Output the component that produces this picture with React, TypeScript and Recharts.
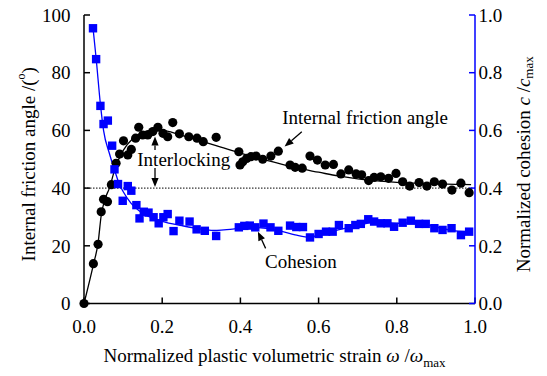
import {
  ComposedChart,
  Line,
  Scatter,
  XAxis,
  YAxis,
  ReferenceLine,
  ReferenceDot,
} from "recharts";

const FONT = '"Liberation Serif", "Times New Roman", serif';
const BLUE = "#0000ff";

// internal friction angle (deg), measured points
const angleStrain = [
  0, 0.024, 0.036, 0.044, 0.05, 0.06, 0.07, 0.082, 0.091, 0.101, 0.112, 0.121,
  0.132, 0.14, 0.15, 0.163, 0.176, 0.189, 0.202, 0.214, 0.227, 0.244, 0.268,
  0.289, 0.305, 0.338, 0.396, 0.399, 0.406, 0.416, 0.427, 0.44, 0.457, 0.478,
  0.497, 0.527, 0.54, 0.558, 0.578, 0.597, 0.617, 0.638, 0.657, 0.677, 0.696,
  0.71, 0.728, 0.742, 0.759, 0.779, 0.798, 0.815, 0.833, 0.857, 0.877, 0.896,
  0.917, 0.941, 0.964, 0.985,
];
const angleValue = [
  0, 13.8, 20.5, 31.8, 36.1, 35.3, 41.2, 48.6, 51.8, 56.4, 51.5, 53.4, 57.3,
  61.1, 58.4, 58.4, 59.6, 61.1, 59.0, 57.8, 62.7, 58.8, 57.8, 57.3, 56.1, 57.6,
  52.6, 48.0, 49.1, 50.3, 50.9, 51.1, 50.0, 51.1, 52.8, 48.0, 47.2, 46.9, 51.1,
  49.7, 48.0, 48.2, 44.9, 46.3, 44.9, 44.6, 42.6, 43.7, 43.9, 43.4, 45.1, 42.2,
  40.7, 41.9, 40.7, 42.2, 41.4, 39.3, 41.7, 38.4,
];

// fitted friction angle curve
const angleFitStrain = [
  0, 0.024, 0.036, 0.044, 0.052, 0.065, 0.08, 0.1, 0.125, 0.15, 0.18, 0.21,
  0.25, 0.3, 0.35, 0.4, 0.45, 0.5, 0.55, 0.6, 0.65, 0.7, 0.75, 0.8, 0.85, 0.9,
  0.95, 0.99,
];
const angleFitValue = [
  0, 13.5, 21, 30.5, 35.5, 40, 47, 53, 57.2, 59.3, 60.3, 59.8, 58.3, 56.3, 54.2,
  52.1, 50.2, 48.5, 46.8, 45.5, 44.2, 43.2, 42.5, 42, 41.7, 41.5, 41.3, 41.2,
];

// normalized cohesion c/cmax, measured points
const cohesionStrain = [
  0.023, 0.031, 0.042, 0.05, 0.061, 0.072, 0.078, 0.087, 0.099, 0.112, 0.121,
  0.134, 0.142, 0.153, 0.165, 0.178, 0.191, 0.203, 0.214, 0.229, 0.244, 0.27,
  0.288, 0.309, 0.338, 0.396, 0.41, 0.424, 0.438, 0.459, 0.477, 0.497, 0.527,
  0.543, 0.56, 0.578, 0.6, 0.619, 0.636, 0.652, 0.677, 0.694, 0.708, 0.727,
  0.742, 0.759, 0.776, 0.793, 0.815, 0.836, 0.857, 0.874, 0.896, 0.917, 0.94,
  0.964, 0.985,
];
const cohesionValue = [
  0.954, 0.847, 0.685, 0.622, 0.634, 0.547, 0.465, 0.414, 0.356, 0.407, 0.391,
  0.341, 0.295, 0.318, 0.315, 0.299, 0.278, 0.299, 0.31, 0.251, 0.287, 0.284,
  0.257, 0.252, 0.234, 0.264, 0.269, 0.27, 0.264, 0.277, 0.264, 0.252, 0.27,
  0.265, 0.265, 0.229, 0.241, 0.249, 0.249, 0.272, 0.261, 0.272, 0.276, 0.292,
  0.284, 0.278, 0.278, 0.266, 0.28, 0.287, 0.276, 0.276, 0.261, 0.255, 0.261,
  0.237, 0.249,
];

// fitted cohesion curve
const cohesionFitStrain = [
  0.023, 0.031, 0.042, 0.05, 0.065, 0.08, 0.09, 0.1, 0.12, 0.14, 0.16, 0.2,
  0.25, 0.3, 0.34, 0.38, 0.44, 0.5, 0.54, 0.578, 0.6, 0.65, 0.7, 0.75, 0.8,
  0.85, 0.9, 0.95, 0.985,
];
const cohesionFitValue = [
  0.956, 0.85, 0.69, 0.6, 0.52, 0.455, 0.415, 0.388, 0.348, 0.322, 0.305, 0.285,
  0.27, 0.258, 0.253, 0.258, 0.263, 0.252, 0.238, 0.229, 0.238, 0.255, 0.27,
  0.283, 0.278, 0.28, 0.265, 0.252, 0.25,
];

const xTicks = [0, 0.2, 0.4, 0.6, 0.8, 1.0];
const angleTicks = [0, 20, 40, 60, 80, 100];
const cohesionTicks = [0, 0.2, 0.4, 0.6, 0.8, 1.0];

const zip = (xs: number[], ys: number[]) => xs.map((x, i) => ({ x, y: ys[i] }));

const anglePoints = zip(angleStrain, angleValue);
const angleFit = zip(angleFitStrain, angleFitValue);
const cohesionPoints = zip(cohesionStrain, cohesionValue);
const cohesionFit = zip(cohesionFitStrain, cohesionFitValue);

const tickStyle = { fill: "#000", fontSize: 19, fontFamily: FONT };

function Arrow(props: any) {
  const { x1, y1, x2, y2 } = props;
  const dx = x2 - x1;
  const dy = y2 - y1;
  const len = Math.hypot(dx, dy) || 1;
  const ux = dx / len;
  const uy = dy / len;
  const head = 9;
  const half = 3.6;
  const bx = x2 - ux * head;
  const by = y2 - uy * head;
  return (
    <g>
      <line x1={x1} y1={y1} x2={bx} y2={by} stroke="#000" strokeWidth={1.3} />
      <polygon
        points={`${x2},${y2} ${bx - uy * half},${by + ux * half} ${bx + uy * half},${by - ux * half}`}
        fill="#000"
      />
    </g>
  );
}

const note = (text: string) => (props: any) => (
  <text x={props.cx} y={props.cy} fontFamily={FONT} fontSize={19} fill="#000">
    {text}
  </text>
);

const circle = (props: any) => <circle cx={props.cx} cy={props.cy} r={4.6} fill="#000" />;
const square = (props: any) => (
  <rect x={props.cx - 4.2} y={props.cy - 4.2} width={8.4} height={8.4} fill={BLUE} />
);

const leftTitle = (props: any) => {
  const vb = props.viewBox;
  const cx = vb.x + 28;
  const cy = vb.y + vb.height / 2 + 5;
  return (
    <text
      x={cx}
      y={cy}
      transform={`rotate(-90, ${cx}, ${cy})`}
      textAnchor="middle"
      dominantBaseline="central"
      fontFamily={FONT}
      fontSize={19}
      fill="#000"
    >
      Internal friction angle /(
      <tspan dy={-7} fontSize={12}>o</tspan>
      <tspan dy={7}>)</tspan>
    </text>
  );
};

const rightTitle = (props: any) => {
  const vb = props.viewBox;
  const cx = vb.x + 48;
  const cy = vb.y + vb.height / 2 + 5;
  return (
    <text
      x={cx}
      y={cy}
      transform={`rotate(-90, ${cx}, ${cy})`}
      textAnchor="middle"
      dominantBaseline="central"
      fontFamily={FONT}
      fontSize={19}
      fill="#000"
    >
      Normalized cohesion <tspan fontStyle="italic">c</tspan> /
      <tspan fontStyle="italic">c</tspan>
      <tspan dy={5} fontSize={13}>max</tspan>
    </text>
  );
};

const bottomTitle = (props: any) => {
  const vb = props.viewBox;
  return (
    <text
      x={vb.x + vb.width / 2 - 5}
      y={vb.y + 58}
      textAnchor="middle"
      fontFamily={FONT}
      fontSize={19}
      fill="#000"
    >
      Normalized plastic volumetric strain <tspan fontStyle="italic">ω</tspan> /
      <tspan fontStyle="italic">ω</tspan>
      <tspan dy={5} fontSize={13}>max</tspan>
    </text>
  );
};

export default function App() {
  return (
    <div style={{ position: "absolute", left: 0, top: 0, background: "#fff" }}>
      <ComposedChart width={547} height={376} margin={{ top: 15, right: 0, bottom: 0, left: 0 }}>
        <XAxis
          type="number"
          dataKey="x"
          domain={[0, 1]}
          ticks={xTicks}
          interval={0}
          height={72.5}
          tickSize={-6}
          tickMargin={22.5}
          tick={tickStyle}
          tickFormatter={(v: number) => v.toFixed(1)}
          axisLine={{ stroke: "#000", strokeWidth: 1.5 }}
          tickLine={{ stroke: "#000", strokeWidth: 1.5 }}
          label={bottomTitle}
        />
        <YAxis
          yAxisId="left"
          orientation="left"
          type="number"
          dataKey="y"
          domain={[0, 100]}
          ticks={angleTicks}
          interval={0}
          width={84}
          tickSize={-6}
          tickMargin={19.4}
          tick={tickStyle}
          axisLine={{ stroke: "#000", strokeWidth: 1.5 }}
          tickLine={{ stroke: "#000", strokeWidth: 1.5 }}
          label={leftTitle}
        />
        <YAxis
          yAxisId="right"
          orientation="right"
          type="number"
          dataKey="y"
          domain={[0, 1]}
          ticks={cohesionTicks}
          interval={0}
          width={72}
          tickSize={-6}
          tickMargin={9.4}
          tick={tickStyle}
          tickFormatter={(v: number) => v.toFixed(1)}
          axisLine={{ stroke: BLUE, strokeWidth: 1.5 }}
          tickLine={{ stroke: BLUE, strokeWidth: 1.5 }}
          label={rightTitle}
        />

        <ReferenceLine yAxisId="left" y={40} stroke="#000" strokeWidth={1} strokeDasharray="1.5 1.5" />

        <Line
          yAxisId="left"
          data={angleFit}
          dataKey="y"
          type="monotone"
          stroke="#000"
          strokeWidth={1.3}
          dot={false}
          activeDot={false}
          isAnimationActive={false}
        />
        <Scatter
          yAxisId="left"
          data={anglePoints}
          shape={circle}
          isAnimationActive={false}
        />
        <Line
          yAxisId="right"
          data={cohesionFit}
          dataKey="y"
          type="monotone"
          stroke={BLUE}
          strokeWidth={1.3}
          dot={false}
          activeDot={false}
          isAnimationActive={false}
        />
        <Scatter
          yAxisId="right"
          data={cohesionPoints}
          shape={square}
          isAnimationActive={false}
        />

        {/* annotations */}
        <ReferenceLine
          yAxisId="left"
          segment={[{ x: 0.1816, y: 53.2 }, { x: 0.1816, y: 57.9 }]}
          shape={Arrow}
        />
        <ReferenceLine
          yAxisId="left"
          segment={[{ x: 0.1816, y: 47.0 }, { x: 0.1816, y: 40.4 }]}
          shape={Arrow}
        />
        <ReferenceLine
          yAxisId="left"
          segment={[{ x: 0.557, y: 59.5 }, { x: 0.513, y: 54.4 }]}
          shape={Arrow}
        />
        <ReferenceLine
          yAxisId="left"
          segment={[{ x: 0.4645, y: 19.1 }, { x: 0.4448, y: 24.9 }]}
          shape={Arrow}
        />
        <ReferenceDot yAxisId="left" x={0.1363} y={47.5} r={1} shape={note("Interlocking")} />
        <ReferenceDot yAxisId="left" x={0.507} y={62.2} r={1} shape={note("Internal friction angle")} />
        <ReferenceDot yAxisId="left" x={0.4629} y={12.2} r={1} shape={note("Cohesion")} />
      </ComposedChart>
    </div>
  );
}
